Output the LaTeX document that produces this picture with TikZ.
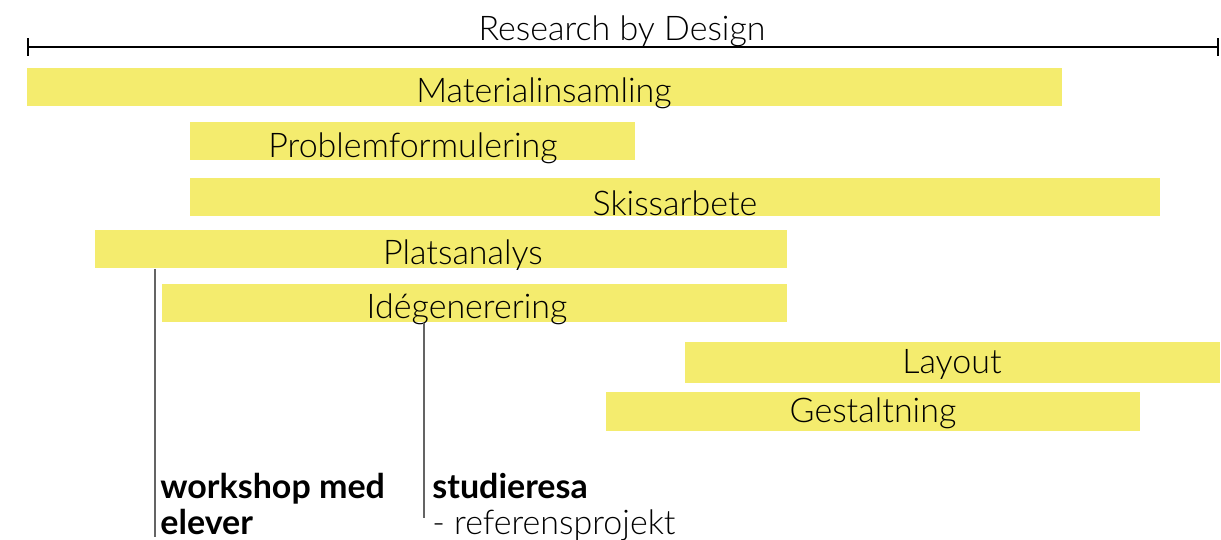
\documentclass[tikz,border=0pt]{standalone}
\usepackage{fontspec}
\setmainfont{Lato}[UprightFont=* Light,BoldFont=* Bold]
\usetikzlibrary{positioning}
\definecolor{baryellow}{RGB}{244,236,110}
\definecolor{linegray}{RGB}{100,100,100}

\begin{document}
\begin{tikzpicture}[x=0.5pt,y=-0.5pt,
  every node/.style={font=\fontsize{17}{20}\selectfont,inner sep=0pt},
  bar/.style={fill=baryellow,draw=none,rectangle,anchor=north west},
  phase/.style={anchor=base},
  note/.style={anchor=base west,align=left,font=\fontsize{17}{18}\selectfont},
  pin/.style={draw=linegray,line width=1pt}]
  \useasboundingbox (0,0) rectangle (1221,540);

  % timeline
  \coordinate (tl) at (27,47);
  \coordinate (tr) at (1219,47);
  \draw[line width=1.2pt,|-|] (tl) -- (tr);
  \node[anchor=base] (rbd) at (622,41) {Research by Design};

  % bars
  \node[bar,minimum width=1035*0.5pt,minimum height=38*0.5pt] (mat)  at (27,68)  {};
  \node[bar,minimum width=445*0.5pt,minimum height=38*0.5pt]  (prob) at (190,122) {};
  \node[bar,minimum width=970*0.5pt,minimum height=38*0.5pt]  (skis) at (190,178) {};
  \node[bar,minimum width=692*0.5pt,minimum height=38*0.5pt]  (plat) at (95,230)  {};
  \node[bar,minimum width=625*0.5pt,minimum height=38*0.5pt]  (ide)  at (162,284) {};
  \node[bar,minimum width=535*0.5pt,minimum height=41*0.5pt]  (lay)  at (685,342) {};
  \node[bar,minimum width=534*0.5pt,minimum height=39*0.5pt]  (gest) at (606,392) {};

  \node[phase] (tmat)  at (544,103) {Materialinsamling};
  \node[phase] (tprob) at (413,157) {Problemformulering};
  \node[phase] (tskis) at (675,215) {Skissarbete};
  \node[phase] (tplat) at (463,264) {Platsanalys};
  \node[phase] (tide)  at (467,318) {Idégenerering};
  \node[phase] (tlay)  at (952,373) {Layout};
  \node[phase] (tgest) at (873,422) {Gestaltning};

  % notes
  \node[note] (ws) at (160,534) {\textbf{workshop med}\\\textbf{elever}};
  \node[note] (sr) at (432,534) {\textbf{studieresa}\\- referensprojekt};

  \coordinate (wsend) at (155,537);
  \coordinate (srend) at (424,518);
  \draw[pin] (plat.south -| wsend) -- (wsend);
  \draw[pin] (ide.south -| srend) -- (srend);

\end{tikzpicture}
\end{document}
